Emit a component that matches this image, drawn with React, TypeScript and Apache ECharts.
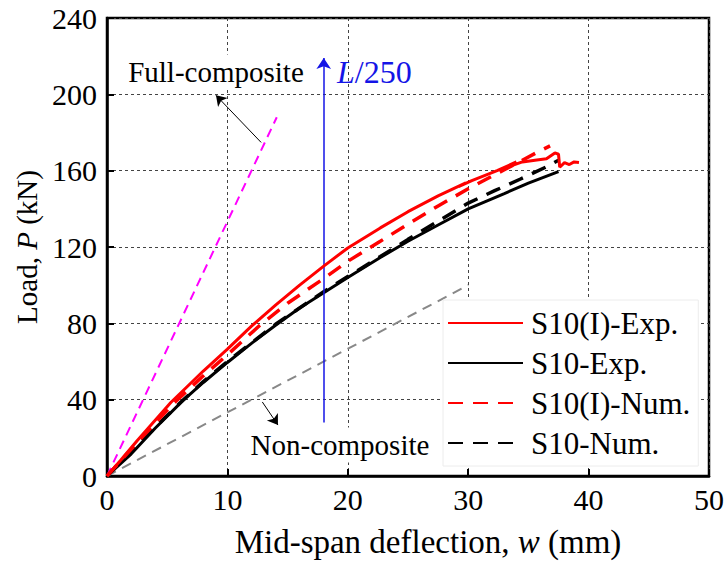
import React, { useEffect, useRef } from "react";
import * as echarts from "echarts";

// Load–deflection readings, [deflection w (mm), load P (kN)]
const s10iExp: number[][] = [
  [0, 0], [1.1, 8], [2.5, 18.5], [5.3, 38.5], [8, 55], [10, 66.5], [12, 78.5], [14, 89.5],
  [16, 100], [18, 110], [20, 119.5], [22.7, 130], [25, 138.5], [27.5, 146.8], [29.8, 153.6],
  [29.2, 151.6], [30.3, 154.8], [32.4, 160], [34, 164.6], [33.2, 161.8], [34.5, 164.6],
  [35.7, 165.6], [36.5, 166.2], [37.2, 169.3], [37.5, 168.6], [37.6, 161.8], [38.0, 164.2],
  [38.4, 163.2], [38.8, 164.6], [39.2, 164.3],
];
const s10Exp: number[][] = [
  [0, 0], [2, 11.5], [4, 25], [6.3, 39.5], [8, 49], [10, 59.5], [12, 69.5], [14, 79],
  [16, 88], [18, 96], [20, 104], [22.7, 114.5], [25, 123], [27.5, 131.5], [30, 140],
  [33, 148], [35, 153.5], [37.5, 159.5],
];
const s10iNum: number[][] = [
  [0, 0], [2.5, 17.5], [5.6, 38.5], [8, 52.5], [10, 63.5], [12.7, 79], [15, 90.5], [18, 103.5],
  [20, 112.5], [22.7, 123], [25, 132], [27.5, 141.5], [30, 150.5], [33, 160.5], [35.7, 169.5],
  [36.8, 173],
];
const s10Num: number[][] = [
  [0, 0], [2.5, 16], [6.1, 38.5], [8, 49.5], [10, 60], [14, 79.5], [18, 96.6], [20, 104.5],
  [22.7, 115], [25, 124], [27.5, 133.5], [30, 143], [32.2, 149.5], [34.3, 155.5],
  [36.5, 162], [37.5, 165.5],
];
// Theoretical stiffness lines
const fullComposite: number[][] = [[0, 0], [14.1, 188]];
const nonComposite: number[][] = [[0, 0], [30, 100]];

// Serviceability limit L/250 (mm) and the extent of its marker arrow (kN)
const limitDeflection = 18;
const limitArrowLoads = [28, 219];

const seriesNames = ["S10(I)-Exp.", "S10-Exp.", "S10(I)-Num.", "S10-Num."];

const FONT = "'Liberation Serif', 'Times New Roman', serif";

export default function App() {
  const ref = useRef<HTMLDivElement>(null);

  useEffect(() => {
    if (!ref.current) return;
    const chart = echarts.init(ref.current, undefined, { renderer: "svg" });

    const lineBase = {
      type: "line" as const,
      showSymbol: false,
      symbol: "none",
      smooth: false,
      silent: true,
    };

    const arrowLine = (color: string, width: number, size: number) => ({
      silent: true,
      symbol: ["none", "arrow"],
      symbolSize: size,
      label: { show: false },
      emphasis: { disabled: true },
      lineStyle: { color, width, type: "solid" as const },
    });

    chart.setOption({
      animation: false,
      backgroundColor: "#fff",
      grid: {
        left: 107,
        right: 19,
        top: 18,
        bottom: 87,
        show: true,
        borderColor: "#000",
        borderWidth: 2.5,
      },
      legend: {
        data: seriesNames,
        orient: "vertical",
        left: 443,
        top: 300,
        width: 263,
        itemWidth: 75,
        itemHeight: 2,
        itemGap: 6,
        padding: [6, 8, 6, 4],
        backgroundColor: "#fff",
        borderColor: "#ececec",
        borderWidth: 1,
        selectedMode: false,
        itemStyle: { opacity: 0 },
        textStyle: {
          fontFamily: FONT,
          fontSize: 31,
          color: "#000",
          lineHeight: 34,
          padding: [0, 0, 0, 3],
        },
      },
      xAxis: {
        type: "value",
        min: 0,
        max: 50,
        interval: 10,
        name: "{n|Mid-span deflection, }{i|w}{n| (mm)}",
        nameLocation: "middle",
        nameGap: 49,
        nameTextStyle: {
          padding: [0, 0, 0, 40],
          rich: {
            n: { fontFamily: FONT, fontSize: 33, color: "#000" },
            i: { fontFamily: FONT, fontSize: 33, color: "#000", fontStyle: "italic" },
          },
        },
        axisLine: { show: true, lineStyle: { color: "#000", width: 2.5 } },
        axisTick: { show: true, inside: true, length: 7, lineStyle: { color: "#000", width: 2 } },
        axisLabel: { fontFamily: FONT, fontSize: 30, color: "#000", margin: 8 },
        splitLine: { show: true, lineStyle: { color: "#444", width: 1, type: [3, 3] } },
      },
      yAxis: {
        type: "value",
        min: 0,
        max: 240,
        interval: 40,
        name: "{n|Load, }{i|P}{n| (kN)}",
        nameLocation: "middle",
        nameRotate: 90,
        nameGap: 61,
        nameTextStyle: {
          rich: {
            n: { fontFamily: FONT, fontSize: 29, color: "#000" },
            i: { fontFamily: FONT, fontSize: 29, color: "#000", fontStyle: "italic" },
          },
        },
        axisLine: { show: true, lineStyle: { color: "#000", width: 2.5 } },
        axisTick: { show: true, inside: true, length: 7, lineStyle: { color: "#000", width: 2 } },
        axisLabel: { fontFamily: FONT, fontSize: 30, color: "#000", margin: 10 },
        splitLine: { show: true, lineStyle: { color: "#444", width: 1, type: [3, 3] } },
      },
      series: [
        {
          ...lineBase,
          name: "Full-composite",
          data: fullComposite,
          z: 2,
          lineStyle: { color: "#ff00ff", width: 2, type: [9, 6] },
          markLine: {
            ...arrowLine("#000", 1, 10),
            data: [[{ coord: [12.8, 174.8] }, { coord: [9.05, 199.5] }]],
          },
        },
        {
          ...lineBase,
          name: "Non-composite",
          data: nonComposite,
          z: 2,
          lineStyle: { color: "#888", width: 2, type: [10, 7] },
          markLine: {
            ...arrowLine("#000", 1, 10),
            data: [[{ coord: [12.9, 38.8] }, { coord: [14.2, 26.7] }]],
          },
        },
        {
          ...lineBase,
          name: seriesNames[1],
          data: s10Exp,
          z: 3,
          lineStyle: { color: "#000", width: 3 },
          itemStyle: { color: "#000" },
        },
        {
          ...lineBase,
          name: seriesNames[3],
          data: s10Num,
          z: 4,
          lineStyle: { color: "#000", width: 3.5, type: [15, 10] },
          itemStyle: { color: "#000" },
        },
        {
          ...lineBase,
          name: seriesNames[0],
          data: s10iExp,
          z: 5,
          lineStyle: { color: "#ff0000", width: 3 },
          itemStyle: { color: "#ff0000" },
          markLine: {
            ...arrowLine("#1414e6", 1.5, 11),
            data: [[
              { coord: [limitDeflection, limitArrowLoads[0]] },
              { coord: [limitDeflection, limitArrowLoads[1]] },
            ]],
          },
        },
        {
          ...lineBase,
          name: seriesNames[2],
          data: s10iNum,
          z: 6,
          lineStyle: { color: "#ff0000", width: 3.5, type: [15, 10] },
          itemStyle: { color: "#ff0000" },
        },
      ],
    });

    // Annotation texts anchored in data space
    const px = (x: number, y: number) =>
      chart.convertToPixel({ gridIndex: 0 }, [x, y]) as number[];
    const full = px(9.05, 211.7);
    const lim = px(19.1, 211.7);
    const non = px(19.35, 16.2);

    chart.setOption({
      graphic: [
        {
          type: "text",
          x: full[0],
          y: full[1],
          z: 20,
          style: {
            text: "Full-composite",
            fontFamily: FONT,
            fontSize: 29,
            fill: "#000",
            align: "center",
            verticalAlign: "middle",
            backgroundColor: "#fff",
            padding: [3, 4, 3, 4],
          },
        },
        {
          type: "text",
          x: lim[0],
          y: lim[1],
          z: 20,
          style: {
            text: "{i|L}{n|/250}",
            align: "left",
            verticalAlign: "middle",
            rich: {
              i: { fontFamily: FONT, fontSize: 32, fill: "#1414e6", fontStyle: "italic" },
              n: { fontFamily: FONT, fontSize: 32, fill: "#1414e6" },
            },
          },
        },
        {
          type: "text",
          x: non[0],
          y: non[1],
          z: 20,
          style: {
            text: "Non-composite",
            fontFamily: FONT,
            fontSize: 29,
            fill: "#000",
            align: "center",
            verticalAlign: "middle",
            backgroundColor: "#fff",
            padding: [3, 5, 3, 5],
          },
        },
      ],
    });

    return () => chart.dispose();
  }, []);

  return (
    <div
      ref={ref}
      style={{ position: "fixed", left: 0, top: 0, width: 728, height: 563 }}
    />
  );
}
